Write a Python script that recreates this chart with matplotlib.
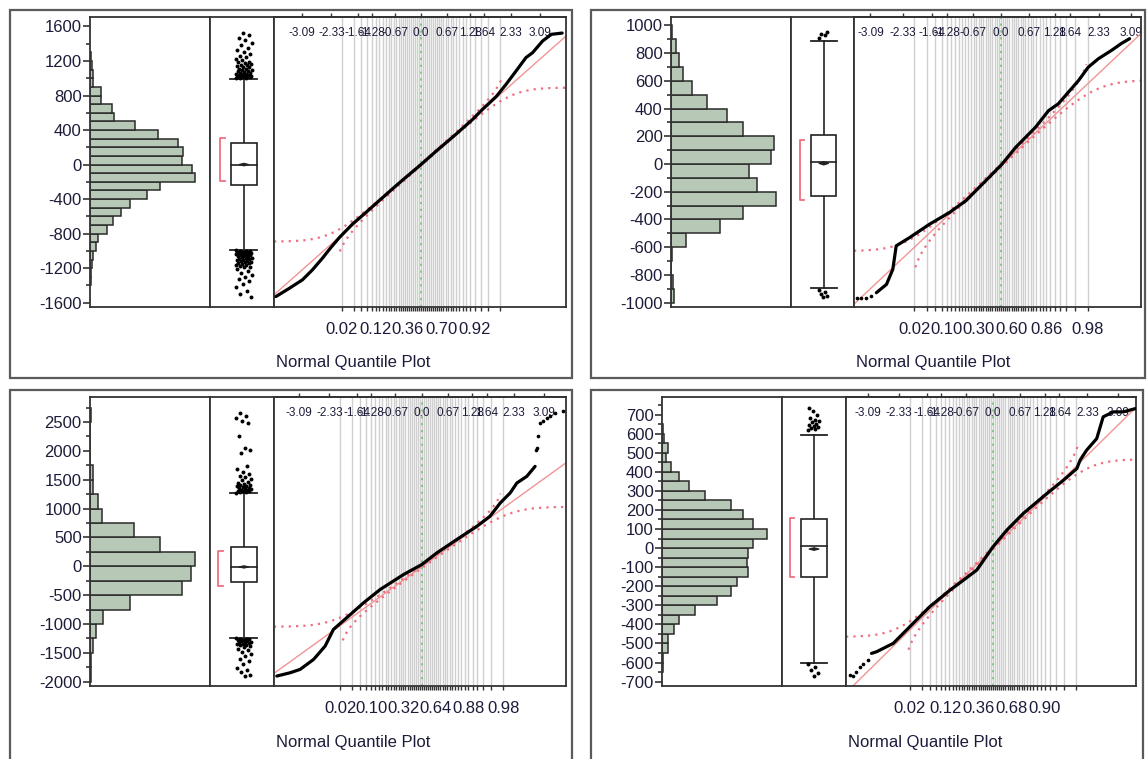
import numpy as np
import matplotlib.pyplot as plt
from matplotlib.patches import Rectangle, Polygon
from statistics import NormalDist

plt.rcParams['font.family'] = ['Liberation Sans', 'DejaVu Sans']
plt.rcParams['axes.unicode_minus'] = False

W, H = 1148, 759
nd = NormalDist()

# normal quantile axis (top) and probability grid (bottom)
z_ticks = [-3.09, -2.33, -1.64, -1.28, -0.67, 0.0, 0.67, 1.28, 1.64, 2.33, 3.09]
z_labels = ["-3.09", "-2.33", "-1.64", "-1.28", "-0.67", "0.0", "0.67", "1.28", "1.64", "2.33", "3.09"]
prob_grid = np.round(np.arange(0.02, 0.99, 0.02), 2)

# ---------- panel 1 ----------
p1_bw = 100
p1_bins = np.arange(-1400, 1300, 100)
p1_counts = [2, 3, 5, 10, 17, 25, 52, 70, 93, 120, 170, 210, 315, 307, 277,
             280, 263, 205, 135, 73, 65, 32, 32, 10, 8, 5, 3]
p1_box = [-233, -8, 252, -988, 996]          # q1, median, q3, whisker lo, whisker hi
p1_mean, p1_mean_ci = 0, 15
p1_short_half = [-194, 310]
p1_out_hi = [1003, 1006, 1008, 1012, 1015, 1018, 1022, 1025, 1028, 1031, 1036, 1040,
             1046, 1050, 1055, 1062, 1066, 1071, 1080, 1086, 1092, 1101, 1107, 1113,
             1125, 1132, 1138, 1150, 1157, 1163, 1178, 1185, 1192, 1208, 1226, 1244,
             1263, 1285, 1307, 1330, 1352, 1381, 1410, 1442, 1470, 1497, 1522]
p1_out_lo = [-995, -998, -1001, -1004, -1007, -1010, -1013, -1017, -1020, -1024,
             -1028, -1032, -1036, -1040, -1045, -1049, -1053, -1058, -1062, -1067,
             -1072, -1078, -1083, -1089, -1094, -1100, -1106, -1112, -1118, -1125,
             -1131, -1138, -1145, -1152, -1160, -1168, -1176, -1184, -1192, -1211,
             -1230, -1252, -1275, -1298, -1325, -1352, -1385, -1420, -1460, -1500,
             -1530]
p1_qz = [-3.77, -3.42, -3.08, -2.82, -2.56, -2.34, -2.12, -1.78, -1.42, -1.08, -0.75,
         -0.48, 0.0, 0.39, 0.91, 1.34, 1.60, 1.96, 2.21, 2.47, 2.73, 2.90, 3.16,
         3.39, 3.67]
p1_qv = [-1529, -1433, -1335, -1219, -1084, -960, -845, -690, -550, -415, -285,
         -180, 0, 154, 352, 522, 640, 790, 929, 1083, 1240, 1296, 1431,
         1509, 1524]
p1_sz, p1_sv = [], []
p1_fit = [0, 395, 0.012]                     # mean, std dev, band half-width
p1_plabels = [0.02, 0.12, 0.36, 0.70, 0.92]
p1_yticks = np.arange(-1600, 1601, 400)
p1_yminor = np.arange(-1600, 1601, 200)

# ---------- panel 2 ----------
p2_bw = 100
p2_bins = np.arange(-1000, 1000, 100)
p2_counts = [8, 5, 0, 4, 45, 147, 217, 315, 257, 235, 300, 310, 217, 167, 109,
             62, 37, 24, 14, 3]
p2_box = [-229, 12, 212, -896, 884]
p2_mean, p2_mean_ci = 5, 12
p2_short_half = [-258, 173]
p2_out_hi = [905, 932, 941, 950]
p2_out_lo = [-912, -925, -938, -950, -962]
p2_qz = [-2.95, -2.71, -2.56, -2.52, -2.48, -2.16, -1.69, -1.22, -0.83, -0.36, 0.03,
         0.35, 0.82, 1.13, 1.36, 1.60, 1.84, 2.07, 2.31, 2.62, 2.85, 3.05]
p2_qv = [-928, -868, -759, -675, -590, -530, -434, -350, -265, -121, 0,
         120, 265, 385, 434, 518, 602, 698, 759, 819, 868, 904]
p2_sz = [-3.42, -3.32, -3.19, -3.08]
p2_sv = [-965, -966, -965, -950]
p2_fit = [-12, 287, 0.016]
p2_plabels = [0.02, 0.10, 0.30, 0.60, 0.86, 0.98]
p2_yticks = np.arange(-1000, 1001, 200)
p2_yminor = np.arange(-1000, 1001, 100)

# ---------- panel 3 ----------
p3_bw = 250
p3_bins = np.arange(-2000, 2750, 250)
p3_counts = [2, 3, 8, 17, 40, 120, 277, 302, 315, 210, 133, 37, 23, 8, 8, 1, 1, 0, 2]
p3_box = [-271, -12, 334, -1240, 1269]
p3_mean, p3_mean_ci = -12, 20
p3_short_half = [-346, 260]
p3_out_hi = [1275, 1283, 1290, 1298, 1305, 1312, 1320, 1329, 1338, 1346, 1355, 1363,
             1372, 1384, 1395, 1405, 1415, 1428, 1440, 1462, 1488, 1510, 1540, 1570,
             1600, 1640, 1690, 1745, 1960, 2020, 2050, 2250, 2480, 2510, 2560, 2610,
             2650]
p3_out_lo = [-1250, -1256, -1262, -1268, -1275, -1282, -1290, -1297, -1305, -1313,
             -1322, -1331, -1340, -1350, -1360, -1371, -1382, -1405, -1430, -1458,
             -1490, -1522, -1560, -1600, -1650, -1700, -1760, -1800, -1840, -1880,
             -1910]
p3_qz = [-3.66, -3.32, -3.07, -2.73, -2.44, -2.23, -1.85, -1.47, -1.05, -0.46, 0.0,
         0.38, 0.88, 1.39, 1.72, 1.98, 2.23, 2.40, 2.65, 2.86]
p3_qv = [-1903, -1845, -1787, -1614, -1384, -1095, -865, -634, -403, -144, 29,
         231, 461, 692, 865, 1096, 1269, 1442, 1557, 1730]
p3_sz = [2.88, 2.91, 2.94, 2.98, 3.05, 3.15, 3.24, 3.36, 3.57]
p3_sv = [2020, 2050, 2249, 2480, 2510, 2560, 2610, 2650, 2683]
p3_fit = [-10, 495, 0.018]
p3_plabels = [0.02, 0.10, 0.32, 0.64, 0.88, 0.98]
p3_yticks = np.arange(-2000, 2501, 500)
p3_yminor = np.arange(-2000, 2751, 250)

# ---------- panel 4 ----------
p4_bw = 50
p4_bins = np.arange(-650, 650, 50)
p4_counts = [1, 1, 6, 6, 12, 17, 33, 55, 69, 75, 86, 85, 86, 91, 105, 91, 81, 69,
             43, 27, 17, 9, 4, 6, 2, 1]
p4_box = [-154, 12, 150, -600, 592]
p4_mean, p4_mean_ci = -5, 7
p4_short_half = [-150, 160]
p4_out_hi = [618, 624, 628, 634, 640, 646, 652, 659, 666, 673, 680, 698, 716, 735]
p4_out_lo = [-608, -622, -640, -655, -668]
p4_qz = [-3.00, -2.87, -2.46, -1.97, -1.56, -1.06, -0.73, -0.40, 0.0, 0.34, 0.75,
         1.33, 1.74, 2.07, 2.15, 2.31, 2.56, 2.72, 2.97, 3.22, 3.51]
p4_qv = [-552, -543, -499, -394, -307, -220, -168, -115, 7, 94, 182,
         286, 356, 417, 461, 513, 574, 688, 714, 714, 731]
p4_sz = [-3.53, -3.46, -3.38, -3.28, -3.20, -3.08]
p4_sv = [-665, -670, -650, -621, -610, -586]
p4_fit = [0, 209, 0.013]
p4_plabels = [0.02, 0.12, 0.36, 0.68, 0.90]
p4_yticks = np.arange(-700, 701, 100)
p4_yminor = np.arange(-700, 751, 50)

panels = [
    dict(bins=p1_bins, bw=p1_bw, counts=p1_counts, box=p1_box, mean=p1_mean, ci=p1_mean_ci,
         sh=p1_short_half, hi=p1_out_hi, lo=p1_out_lo, qz=p1_qz, qv=p1_qv, sz=p1_sz, sv=p1_sv,
         fit=p1_fit, plab=p1_plabels, yt=p1_yticks, ym=p1_yminor,
         ylim=(-1650, 1710), xlim=(-3.82, 3.77), hmax=360, cx=0.53, bx=0.16, jw=0.13,
         frame=(10, 10, 572, 378), hist=(90, 17, 210, 307), boxr=(210, 17, 274, 307),
         qq=(274, 17, 566, 307), title=(276, 362)),
    dict(bins=p2_bins, bw=p2_bw, counts=p2_counts, box=p2_box, mean=p2_mean, ci=p2_mean_ci,
         sh=p2_short_half, hi=p2_out_hi, lo=p2_out_lo, qz=p2_qz, qv=p2_qv, sz=p2_sz, sv=p2_sv,
         fit=p2_fit, plab=p2_plabels, yt=p2_yticks, ym=p2_yminor,
         ylim=(-1031, 1060), xlim=(-3.48, 3.32), hmax=360, cx=0.52, bx=0.14, jw=0.08,
         frame=(591, 10, 1145, 378), hist=(671, 17, 791, 307), boxr=(791, 17, 854, 307),
         qq=(854, 17, 1141, 307), title=(856, 362)),
    dict(bins=p3_bins, bw=p3_bw, counts=p3_counts, box=p3_box, mean=p3_mean, ci=p3_mean_ci,
         sh=p3_short_half, hi=p3_out_hi, lo=p3_out_lo, qz=p3_qz, qv=p3_qv, sz=p3_sz, sv=p3_sv,
         fit=p3_fit, plab=p3_plabels, yt=p3_yticks, ym=p3_yminor,
         ylim=(-2075, 2932), xlim=(-3.73, 3.64), hmax=360, cx=0.53, bx=0.13, jw=0.12,
         frame=(10, 390, 572, 775), hist=(90, 397, 210, 686), boxr=(210, 397, 274, 686),
         qq=(274, 397, 566, 686), title=(276, 742)),
    dict(bins=p4_bins, bw=p4_bw, counts=p4_counts, box=p4_box, mean=p4_mean, ci=p4_mean_ci,
         sh=p4_short_half, hi=p4_out_hi, lo=p4_out_lo, qz=p4_qz, qv=p4_qv, sz=p4_sz, sv=p4_sv,
         fit=p4_fit, plab=p4_plabels, yt=p4_yticks, ym=p4_yminor,
         ylim=(-723, 792), xlim=(-3.63, 3.53), hmax=120, cx=0.50, bx=0.125, jw=0.09,
         frame=(591, 390, 1143, 775), hist=(662, 397, 782, 686), boxr=(782, 397, 846, 686),
         qq=(846, 397, 1136, 686), title=(848, 742)),
]

TXT = '#1c1c3a'
SPINE = '#333333'
BAR = '#b7c9b6'
RED = '#ef6f80'
PINK = '#f39494'


def px_rect(l, t, r, b):
    return [l / W, 1 - b / H, (r - l) / W, (b - t) / H]


def frame_axes(ax):
    for s in ax.spines.values():
        s.set_color(SPINE)
        s.set_linewidth(1.3)


fig = plt.figure(figsize=(W / 100, H / 100), dpi=100)
fig.patch.set_facecolor('white')

for pn in panels:
    l, t, r, b = pn['frame']
    fig.add_artist(Rectangle((l / W, 1 - b / H), (r - l) / W, (b - t) / H,
                             transform=fig.transFigure, fill=False,
                             ec='#5a5a5a', lw=1.6))

    # histogram
    ax_h = fig.add_axes(px_rect(*pn['hist']))
    ax_h.barh(pn['bins'], pn['counts'], height=pn['bw'], align='edge',
              color=BAR, edgecolor='#2a2a2a', linewidth=1.1)
    ax_h.set_xlim(0, pn['hmax'])
    ax_h.set_ylim(*pn['ylim'])
    ax_h.set_xticks([])
    ax_h.set_yticks(pn['yt'])
    ax_h.set_yticks(pn['ym'], minor=True)
    ax_h.tick_params(axis='y', which='major', length=5, width=1.2, color=SPINE,
                     labelsize=12, labelcolor=TXT, pad=1)
    ax_h.tick_params(axis='y', which='minor', length=3, width=1.2, color=SPINE)
    frame_axes(ax_h)

    # outlier box plot
    ax_b = fig.add_axes(px_rect(*pn['boxr']))
    ax_b.set_xlim(0, 1)
    ax_b.set_ylim(*pn['ylim'])
    ax_b.set_xticks([])
    ax_b.set_yticks([])
    frame_axes(ax_b)
    q1, med, q3, wlo, whi = pn['box']
    cx, hw = pn['cx'], 0.20
    ax_b.plot([cx, cx], [q3, whi], color='#222', lw=1.2, zorder=2)
    ax_b.plot([cx, cx], [wlo, q1], color='#222', lw=1.2, zorder=2)
    ax_b.plot([cx - hw * 1.05, cx + hw * 1.05], [whi, whi], color='#222', lw=1.3)
    ax_b.plot([cx - hw * 1.05, cx + hw * 1.05], [wlo, wlo], color='#222', lw=1.3)
    ax_b.add_patch(Rectangle((cx - hw, q1), 2 * hw, q3 - q1, fc='white',
                             ec='#222', lw=1.2, zorder=3))
    ax_b.plot([cx - hw, cx + hw], [med, med], color='#222', lw=1.2, zorder=4)
    m, ci = pn['mean'], pn['ci']
    ax_b.add_patch(Polygon([(cx - hw * 0.4, m), (cx, m + ci), (cx + hw * 0.4, m), (cx, m - ci)],
                           closed=True, fc='#222', ec='#222', lw=0.8, zorder=5))
    sl, sh = pn['sh']
    bx = pn['bx']
    ax_b.plot([bx + 0.07, bx, bx, bx + 0.07], [sh, sh, sl, sl], color=RED, lw=1.3)
    for vals in (pn['hi'], pn['lo']):
        k = np.arange(len(vals))
        jit = cx + pn['jw'] * 2 * (((k * 0.618034) % 1) - 0.5)
        ax_b.scatter(jit, vals, s=8, color='black', linewidths=0, zorder=6)

    # normal quantile plot
    ax_q = fig.add_axes(px_rect(*pn['qq']))
    x0, x1 = pn['xlim']
    ax_q.set_xlim(x0, x1)
    ax_q.set_ylim(*pn['ylim'])
    frame_axes(ax_q)
    grid_z = [nd.inv_cdf(p) for p in prob_grid]
    for gz in grid_z:
        ax_q.axvline(gz, color='#cfcfcf', lw=1.0, zorder=0)
    ax_q.axvline(0, color='#7dc27d', lw=1.3, ls=(0, (1.2, 2.6)), zorder=1)

    mu, sd, d = pn['fit']
    zz = np.linspace(x0, x1, 600)
    ax_q.plot(zz, mu + sd * zz, color=PINK, lw=1.0, zorder=2)
    pp = np.array([nd.cdf(z) for z in zz])
    ok_lo = (pp - d) > 0.005
    ok_hi = (pp + d) < 0.995
    band_lo = mu + sd * np.array([nd.inv_cdf(p) for p in pp[ok_lo] - d])
    band_hi = mu + sd * np.array([nd.inv_cdf(p) for p in pp[ok_hi] + d])
    ax_q.plot(zz[ok_lo], band_lo, color=RED, lw=1.6, ls=(0, (1, 2.3)), zorder=2)
    ax_q.plot(zz[ok_hi], band_hi, color=RED, lw=1.6, ls=(0, (1, 2.3)), zorder=2)

    ax_q.plot(pn['qz'], pn['qv'], color='black', lw=2.3, solid_capstyle='round',
              solid_joinstyle='round', zorder=3)
    ax_q.scatter(pn['sz'], pn['sv'], s=7, color='black', linewidths=0, zorder=3)

    ax_q.set_yticks([])
    ax_q.set_xticks([nd.inv_cdf(p) for p in pn['plab']],
                    labels=[f'{p:.2f}' for p in pn['plab']])
    ax_q.set_xticks(grid_z, minor=True)
    ax_q.tick_params(axis='x', which='both', length=3, width=1, color=SPINE)
    ax_q.tick_params(axis='x', which='major', labelsize=12, labelcolor=TXT, pad=7.5)

    top = ax_q.secondary_xaxis('top')
    top.set_xticks(z_ticks, labels=z_labels)
    top.tick_params(direction='out', length=3, width=1, color=SPINE,
                    labelsize=8.5, labelcolor=TXT, pad=-18.5)
    top.spines['top'].set_color(SPINE)
    top.spines['top'].set_linewidth(1.3)

    tx, ty = pn['title']
    fig.text(tx / W, 1 - ty / H, 'Normal Quantile Plot', fontsize=12,
             color=TXT, ha='left', va='center')

fig.savefig('out.png', dpi=100)
